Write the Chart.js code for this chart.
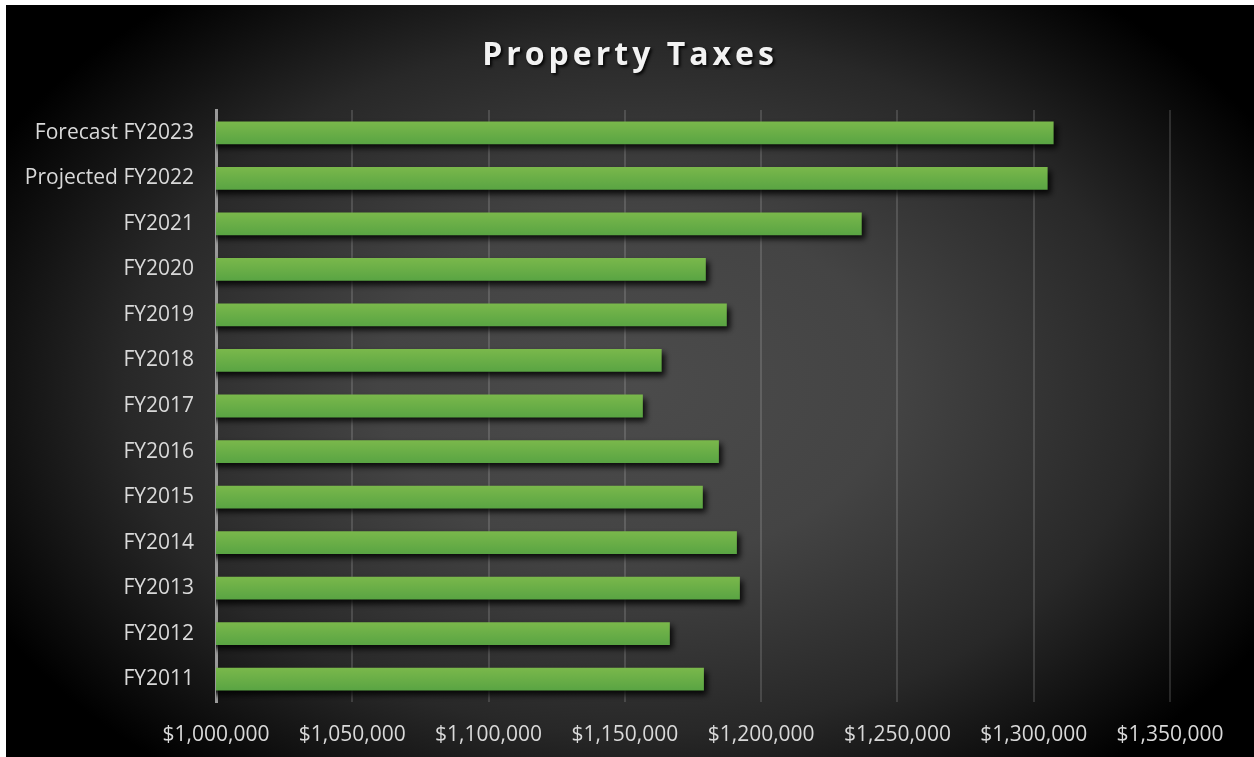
<!DOCTYPE html>
<html>
<head>
<meta charset="utf-8">
<title>Property Taxes</title>
<script src="https://cdn.jsdelivr.net/npm/chart.js@4.4.1/dist/chart.umd.min.js"></script>
<style>
    html, body { margin: 0; padding: 0; background: #ffffff; }
    #wrap { position: absolute; left: 6px; top: 5px; width: 1248px; height: 752px; }
</style>
</head>
<body>
<div id="wrap"><canvas id="taxChart"></canvas></div>
<script>
const fiscalYears = [
    'FY2011', 'FY2012', 'FY2013', 'FY2014', 'FY2015', 'FY2016', 'FY2017',
    'FY2018', 'FY2019', 'FY2020', 'FY2021', 'Projected FY2022', 'Forecast FY2023',
];
const propertyTaxes = [
    1179000, 1166500, 1192200, 1191100, 1178600, 1184500, 1156600,
    1163500, 1187400, 1179700, 1236900, 1305100, 1307300,
];
const axisMin = 1000000;
const axisMax = 1350000;
const axisStep = 50000;

function money(value) {
    return '$' + Number(value).toLocaleString('en-US');
}

const backdrop = {
    id: 'backdrop',
    beforeDraw(chart) {
        const { ctx, width, height } = chart;
        ctx.save();
        ctx.fillStyle = '#000';
        ctx.fillRect(0, 0, width, height);
        ctx.translate(630, 380);
        ctx.scale(1, 0.68);
        const glow = ctx.createRadialGradient(0, 0, 0, 0, 0, 730);
        glow.addColorStop(0, '#4b4b4b');
        glow.addColorStop(0.35, '#444444');
        glow.addColorStop(0.7, '#282828');
        glow.addColorStop(1, '#000000');
        ctx.fillStyle = glow;
        ctx.fillRect(-width, -height * 2, width * 2, height * 4);
        ctx.restore();
    },
};

const heading = {
    id: 'heading',
    afterDraw(chart) {
        const { ctx, width } = chart;
        ctx.save();
        ctx.font = 'bold 32px "Open Sans"';
        ctx.letterSpacing = '4px';
        ctx.textAlign = 'center';
        ctx.textBaseline = 'alphabetic';
        ctx.shadowColor = 'rgba(0, 0, 0, 0.85)';
        ctx.shadowOffsetX = 2;
        ctx.shadowOffsetY = 2;
        ctx.shadowBlur = 3;
        ctx.fillStyle = '#f2f2f2';
        ctx.fillText('Property Taxes', width / 2, 60);
        ctx.restore();
    },
};

// green bars get a vertical gradient and a soft drop shadow
const barStyle = {
    id: 'barStyle',
    beforeDatasetDraw(chart, args) {
        const { ctx } = chart;
        args.meta.data.forEach((bar) => {
            const h = bar.height;
            const g = ctx.createLinearGradient(0, bar.y - h / 2, 0, bar.y + h / 2);
            g.addColorStop(0, '#7ab84b');
            g.addColorStop(1, '#59a443');
            bar.options = Object.assign({}, bar.options, { backgroundColor: g });
        });
        ctx.save();
        ctx.shadowColor = 'rgba(0, 0, 0, 0.85)';
        ctx.shadowOffsetX = 3;
        ctx.shadowOffsetY = 4;
        ctx.shadowBlur = 6;
    },
    afterDatasetDraw(chart) {
        chart.ctx.restore();
    },
};

new Chart(document.getElementById('taxChart'), {
    type: 'bar',
    data: {
        labels: fiscalYears,
        datasets: [
            {
                label: 'Property Taxes',
                data: propertyTaxes,
                backgroundColor: '#6aae47',
                borderWidth: 0,
                barPercentage: 0.5,
                categoryPercentage: 1,
            },
        ],
    },
    options: {
        indexAxis: 'y',
        responsive: true,
        maintainAspectRatio: false,
        animation: false,
        layout: {
            padding: { top: 105, right: 84, bottom: 0, left: 0 },
        },
        plugins: {
            legend: { display: false },
            title: { display: false },
            tooltip: { enabled: false },
        },
        scales: {
            x: {
                min: axisMin,
                max: axisMax,
                afterFit: (scale) => { scale.height = 55; },
                ticks: {
                    stepSize: axisStep,
                    color: '#d9d9d9',
                    padding: 20,
                    maxRotation: 0,
                    font: { family: '"Open Sans"', size: 21 },
                    callback: (value) => money(value),
                },
                grid: {
                    color: 'rgba(255, 255, 255, 0.14)',
                    lineWidth: 2,
                    drawTicks: false,
                },
                border: { display: false },
            },
            y: {
                reverse: true,
                afterFit: (scale) => { scale.width = 210; },
                ticks: {
                    color: '#d9d9d9',
                    padding: 22,
                    font: { family: '"Open Sans"', size: 21 },
                },
                grid: { display: false, drawTicks: false },
                border: { display: true, color: '#9a9a9a', width: 3 },
            },
        },
    },
    plugins: [backdrop, barStyle, heading],
});
</script>
</body>
</html>
